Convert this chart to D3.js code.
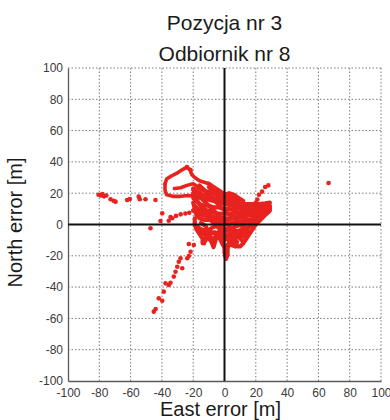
<!DOCTYPE html>
<html>
<head>
<meta charset="utf-8">
<script src="https://cdn.jsdelivr.net/npm/d3@7"></script>
<style>
  html, body { margin: 0; background: #fff; }
  svg { display: block; font-family: "Liberation Sans", Arial, sans-serif; }
</style>
</head>
<body>
<svg id="chart" width="390" height="420"></svg>
<script>
// Chart text
const titleLines = ["Pozycja nr 3", "Odbiornik nr 8"];
const xLabel = "East error [m]";
const yLabel = "North error [m]";

// Axis ticks (metres)
const xTicks = [-100, -80, -60, -40, -20, 0, 20, 40, 60, 80, 100];
const yTicks = [-100, -80, -60, -40, -20, 0, 20, 40, 60, 80, 100];

// Isolated position-error fixes [m]
const dotEast = [
  -80.5, -79, -78, -77, -75.5, -72.8, -70.9, -69.6, -62.2, -60.5,
  -54.8, -54.1, -50.5, -44.1, -39.8, -40.9, -47.3, -35.6, -33.4,
  -34.5, -31, -28, -25, -22.5, -24, -21.7,
  -45.2, -44, -42, -39.8, -38.8, -37.7, -35.6, -34.5, -32.4, -31.3,
  -30.2, -27, -29.2, -28.1, -23.8, -22.8, -21.7, -19.6, -22.8,
  28, 26, 24, 22, 21, 20, 66.5
];
const dotNorth = [
  19, 18.5, 19.5, 18, 18.5, 16.1, 15.2, 14.6, 15.7, 16.3,
  17.8, 16.1, 16.1, 15.7, 7.2, 2.2, -2.4, 2.4, 4,
  4.8, 5.5, 6.5, 7, 7.5, 36.7, 34.8,
  -55.7, -54, -47.2, -48.7, -42.9, -37.6, -38.7, -37.2, -33.3, -30.2,
  -27, -28, -23.8, -21.6, -21.6, -20.1, -17.4, -13.1, -12.5,
  25, 24, 21, 19, 16, 14, 26.5
];

// Loop of fixes north-west of the cluster [east, north]
const loopTracks = [
  [[-38,26],[-37,29],[-34,31],[-30,33],[-27,35],[-24,36.5],[-22,35],[-21,32],[-19,30],[-16,28],[-13,27],[-10,26]],
  [[-38,26],[-38,22],[-37,19],[-33,18],[-28,18],[-23,18.5],[-19,18]],
  [[-32,23],[-28,23.5],[-24,25],[-20,26],[-17,24]]
];

// Consecutive fixes forming the dense cluster around the true position [east, north]
const coreTracks = [
  [[-10,26],[-7,24],[-4,22],[-1,20],[2,18],[5,17],[8,16],[11,15]],
  [[-19,18],[-15,17],[-11,16],[-7,15],[-3,14],[1,13],[5,12],[9,11],[13,10],[17,10],[21,10],[25,11],[29,12]],
  [[-17,24],[-14,22],[-11,21],[-8,20],[-5,19],[-2,17],[1,16],[4,15],[7,14],[10,13],[14,13],[18,13],[22,13],[26,13.5],[29,14]],
  [[-20,9],[-17,10],[-14,10],[-11,9],[-8,8],[-5,7],[-2,7],[1,7],[4,7],[7,7.5],[10,8],[14,8],[18,8],[22,8.5],[26,9],[29,10]],
  [[-20,20],[-18,16],[-16,13],[-13,12],[-10,12],[-7,11],[-4,11],[-1,10],[2,10],[5,9.5],[8,10],[11,11],[14,11],[17,11]],
  [[-20,14],[-19,10],[-18,6],[-16,4],[-13,3],[-10,3],[-7,4],[-4,3],[-1,2],[2,3],[5,4],[8,4],[11,5],[14,5.5],[17,6],[20,6],[24,7],[27,8]],
  [[-19,4],[-19,0],[-18,-3],[-16,-6],[-14,-9],[-14,-12],[-12,-10],[-11,-7],[-10,-4],[-8,-2],[-5,-1],[-2,0],[1,0],[4,1],[7,1.5],[10,2],[13,3],[16,3],[19,4],[22,5]],
  [[-15,1],[-12,-1],[-10,-5],[-9,-9],[-8,-12],[-7,-14.5],[-6,-11],[-5,-7],[-3,-4],[-1,-3],[2,-3],[5,-2],[8,-1],[11,0],[14,0.5],[17,1],[20,2]],
  [[-4,5],[-3,1],[-2,-3],[-1,-7],[-1,-11],[0,-15],[0,-18],[1,-22],[2,-19],[2,-15],[3,-11],[4,-7],[6,-5],[9,-4],[12,-3],[15,-2],[17,-1]],
  [[29,9],[26,6],[23,3],[20,0],[18,-3],[16,-6],[14,-9],[12,-12],[10,-14],[7,-14],[4,-13],[3,-10],[5,-8],[8,-8],[11,-7],[14,-5]],
  [[-18,-1],[-15,-3],[-12,-4],[-8,-5],[-4,-6],[0,-7],[3,-6],[6,-9],[8,-11],[5,-12],[2,-13]],
  [[-20,23],[-17,21],[-14,19],[-11,18],[-8,17],[-5,16.5],[-2,15],[1,15],[4,13.5],[7,12],[10,13],[12,15],[9,17],[6,19],[3,20],[0,19],[-3,20],[-6,22],[-9,23]],
  [[-20,9],[-17,7],[-14,6],[-11,5.5],[-8,5],[-5,4.5],[-2,4.5],[1,4],[4,4],[7,5],[10,6],[13,6.5]],
  [[-20,22],[-17,19],[-14,16],[-11,13],[-8,10],[-5,7],[-2,4],[1,1],[4,-2],[7,-4],[10,-6],[13,-8]],
  [[-16,25],[-13,22],[-10,19],[-7,16],[-4,13],[-1,10],[2,7],[5,5],[8,2],[11,-1],[14,-3]],
  [[-20,17],[-17,14],[-14,11],[-11,8],[-8,5],[-5,2],[-2,-1],[1,-4],[4,-4],[7,-6],[10,-9],[12,-11]],
  [[-19,12],[-16,9],[-13,7],[-10,4],[-7,1],[-4,-2],[-1,-5],[2,-8],[5,-10],[8,-13]],
  [[-17,-2],[-14,-5],[-11,-8],[-9,-10],[-6,-8],[-3,-9],[-1,-13],[1,-16],[3,-13],[6,-12]],
  [[-13,-12],[-12,-8],[-9,-6],[-6,-5],[-3,-7],[0,-10],[3,-8],[6,-7],[9,-6],[12,-5],[15,-4]],
  [[10,1],[13,1.5],[16,2],[19,3],[22,4],[25,6],[28,8],[29,11],[26,12],[23,11],[20,11],[17,12],[14,12],[11,12]],
  [[12,9],[15,9.5],[18,9.5],[21,9.5],[24,10],[27,11]],
  [[-10,24],[-8,22],[-6,20],[-3,18],[0,17],[3,16.5],[6,16],[9,15]]
];

// Layout
const plot = { left: 68, top: 68, right: 381, bottom: 381 };
const red = "#e8221e";

const svg = d3.select("#chart");
const x = d3.scaleLinear().domain([-100, 100]).range([plot.left, plot.right]);
const y = d3.scaleLinear().domain([-100, 100]).range([plot.bottom, plot.top]);

// Dotted grid
const grid = svg.append("g")
  .attr("stroke", "#7a7a7a")
  .attr("stroke-width", 1)
  .attr("stroke-dasharray", "1.5,2");
grid.selectAll(".gx").data(xTicks.filter(d => d > -100)).join("line")
  .attr("x1", d => x(d)).attr("x2", d => x(d))
  .attr("y1", plot.top).attr("y2", plot.bottom);
grid.selectAll(".gy").data(yTicks.filter(d => d > -100)).join("line")
  .attr("y1", d => y(d)).attr("y2", d => y(d))
  .attr("x1", plot.left).attr("x2", plot.right);

// Axes (left and bottom solid)
const fmt = d => String(d);
const gx = svg.append("g")
  .attr("transform", `translate(0,${plot.bottom})`)
  .call(d3.axisBottom(x).tickValues(xTicks).tickFormat(fmt).tickSize(0).tickPadding(7));
const gy = svg.append("g")
  .attr("transform", `translate(${plot.left},0)`)
  .call(d3.axisLeft(y).tickValues(yTicks).tickFormat(fmt).tickSize(0).tickPadding(5));
[gx, gy].forEach(g => {
  g.select(".domain").attr("stroke", "#5a5a5a").attr("stroke-width", 1.3);
  g.selectAll("text")
    .attr("font-family", "'Liberation Sans', Arial, sans-serif")
    .attr("font-size", 12)
    .attr("fill", "#3a3a3a");
});

// Error cluster
const line = d3.line().x(d => x(d[0])).y(d => y(d[1]));
const marks = svg.append("g")
  .attr("fill", "none")
  .attr("stroke", red)
  .attr("stroke-linejoin", "round")
  .attr("stroke-linecap", "round");
marks.selectAll(".loop").data(loopTracks).join("path")
  .attr("d", line)
  .attr("stroke-width", 3.6);
marks.selectAll(".core").data(coreTracks).join("path")
  .attr("d", line)
  .attr("stroke-width", 4.2);

svg.append("g")
  .selectAll("circle").data(dotEast.map((e, i) => [e, dotNorth[i]])).join("circle")
  .attr("cx", d => x(d[0]))
  .attr("cy", d => y(d[1]))
  .attr("r", 2.3)
  .attr("fill", red);

// Zero reference lines
svg.append("line")
  .attr("x1", x(0)).attr("x2", x(0)).attr("y1", plot.top).attr("y2", plot.bottom)
  .attr("stroke", "#111").attr("stroke-width", 2);
svg.append("line")
  .attr("x1", plot.left).attr("x2", plot.right).attr("y1", y(0)).attr("y2", y(0))
  .attr("stroke", "#111").attr("stroke-width", 2);

// Title and axis labels
const cx = (plot.left + plot.right) / 2;
svg.append("g").selectAll("text").data(titleLines).join("text")
  .attr("x", cx)
  .attr("y", (d, i) => 30 + i * 30.5)
  .attr("text-anchor", "middle")
  .attr("font-size", 21)
  .attr("fill", "#1a1a1a")
  .text(d => d);

svg.append("text")
  .attr("x", cx - 4).attr("y", 416)
  .attr("text-anchor", "middle")
  .attr("font-size", 20)
  .attr("fill", "#1a1a1a")
  .text(xLabel);

svg.append("text")
  .attr("transform", `translate(22,${y(0) - 2}) rotate(-90)`)
  .attr("text-anchor", "middle")
  .attr("font-size", 20)
  .attr("fill", "#1a1a1a")
  .text(yLabel);
</script>
</body>
</html>
